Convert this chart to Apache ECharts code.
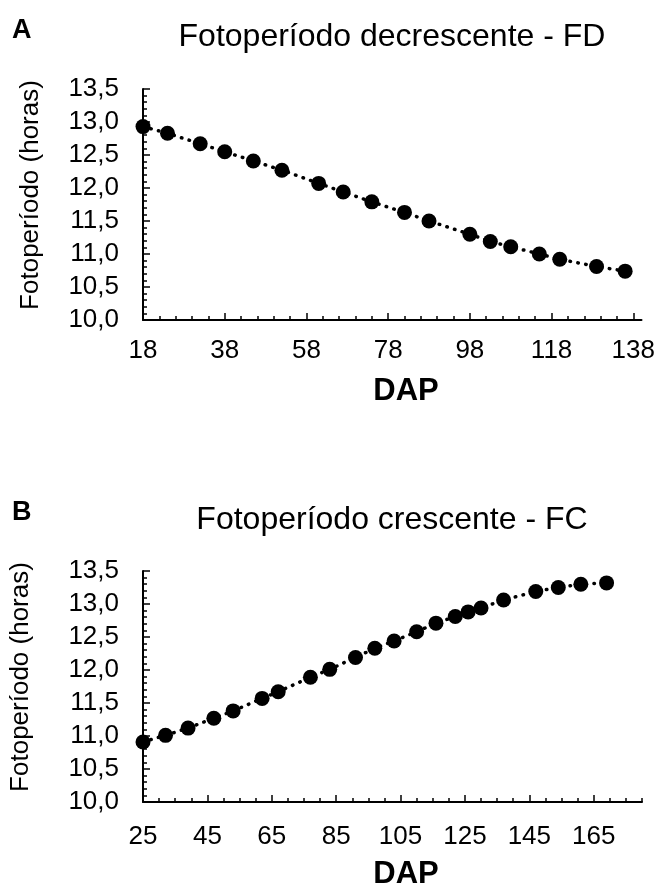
<!DOCTYPE html>
<html>
<head>
<meta charset="utf-8">
<script src="https://cdn.jsdelivr.net/npm/echarts@6/dist/echarts.min.js"></script>
<style>
html,body{margin:0;padding:0;background:#fff;}
#chart{width:658px;height:888px;}
</style>
</head>
<body>
<div id="chart"></div>
<script>
// ---- Data ----
var dapA = [18, 24, 32, 38, 45, 52, 61, 67, 74, 82, 88, 98, 103, 108, 115, 120, 129, 136];
var fotoA = [12.93, 12.83, 12.67, 12.55, 12.41, 12.27, 12.07, 11.94, 11.79, 11.63, 11.50, 11.30, 11.19, 11.11, 11.00, 10.92, 10.81, 10.74];

var dapB = [25, 32, 39, 47, 53, 62, 67, 77, 83, 91, 97, 103, 110, 116, 122, 126, 130, 137, 147, 154, 161, 169];
var fotoB = [10.91, 11.01, 11.12, 11.27, 11.38, 11.57, 11.67, 11.89, 12.01, 12.19, 12.33, 12.44, 12.58, 12.71, 12.81, 12.88, 12.94, 13.06, 13.19, 13.25, 13.30, 13.32];

// tick labels
var xTicksA = [18, 38, 58, 78, 98, 118, 138];
var xMinorA = [22, 26, 30, 34, 42, 46, 50, 54, 62, 66, 70, 74, 82, 86, 90, 94, 102, 106, 110, 114, 122, 126, 130, 134];
var xTicksB = [25, 45, 65, 85, 105, 125, 145, 165];
var xMinorB = [30, 35, 40, 50, 55, 60, 70, 75, 80, 90, 95, 100, 110, 115, 120, 130, 135, 140, 150, 155, 160, 170, 175, 180];
var yTicks = [10.0, 10.5, 11.0, 11.5, 12.0, 12.5, 13.0, 13.5];

var titleA = 'Fotoperíodo decrescente - FD';
var titleB = 'Fotoperíodo crescente - FC';
var yName = 'Fotoperíodo (horas)';
var xName = 'DAP';

// ---- Chart ----
var FONT = '"Liberation Sans", Arial, sans-serif';
var chart = echarts.init(document.getElementById('chart'), null, {renderer: 'canvas'});

function zip(xs, ys) { return xs.map(function (x, i) { return [x, ys[i]]; }); }
function fmt(v) { return Number(v).toFixed(1).replace('.', ','); }

function mainX(grid, min, max, ticks, margin) {
  return {
    type: 'value', gridIndex: grid, position: 'bottom', min: min, max: max,
    axisLine: {show: true, onZero: false, lineStyle: {color: '#000', width: 2}},
    axisTick: {show: true, inside: true, length: 7, lineStyle: {color: '#000', width: 1.5}, customValues: ticks},
    axisLabel: {show: true, customValues: ticks, margin: margin, color: '#000', fontSize: 26, fontFamily: FONT},
    splitLine: {show: false}
  };
}
function minorX(grid, min, max, ticks) {
  return {
    type: 'value', gridIndex: grid, position: 'bottom', min: min, max: max,
    axisLine: {show: false, onZero: false},
    axisTick: {show: true, inside: true, length: 4, lineStyle: {color: '#000', width: 1.5}, customValues: ticks},
    axisLabel: {show: false},
    splitLine: {show: false}
  };
}
function yAx(grid) {
  return {
    type: 'value', gridIndex: grid, min: yTicks[0], max: yTicks[yTicks.length - 1], interval: 0.5,
    axisLine: {show: true, onZero: false, lineStyle: {color: '#000', width: 2}},
    axisTick: {show: true, inside: true, length: 7, lineStyle: {color: '#000', width: 1.5}},
    minorTick: {show: true, splitNumber: 5, length: 4, lineStyle: {color: '#000', width: 1.5}},
    axisLabel: {show: true, margin: 24, formatter: fmt, color: '#000', fontSize: 26, fontFamily: FONT},
    splitLine: {show: false}, minorSplitLine: {show: false}
  };
}
function ser(xi, yi, data) {
  return {
    type: 'line', xAxisIndex: xi, yAxisIndex: yi, data: data, clip: false,
    symbol: 'circle', symbolSize: 15, showSymbol: true,
    itemStyle: {color: '#000'},
    lineStyle: {color: '#000', width: 3.5, type: [0.5, 7.5], cap: 'round'},
    animation: false
  };
}
function txt(x, y, s, font, align, rot) {
  return {
    type: 'text', x: x, y: y, rotation: rot || 0,
    style: {text: s, font: font, fill: '#000', align: align || 'center', verticalAlign: 'middle'}
  };
}

chart.setOption({
  backgroundColor: '#fff',
  animation: false,
  grid: [
    {left: 143, top: 89, width: 499, height: 231},
    {left: 143, top: 571, width: 499, height: 231}
  ],
  xAxis: [
    mainX(0, 18, 140, xTicksA, 18),
    minorX(0, 18, 140, xMinorA),
    mainX(1, 25, 180, xTicksB, 22),
    minorX(1, 25, 180, xMinorB)
  ],
  yAxis: [yAx(0), yAx(1)],
  series: [
    ser(0, 0, zip(dapA, fotoA)),
    ser(2, 1, zip(dapB, fotoB))
  ],
  graphic: [
    txt(12, 31, 'A', 'bold 27px ' + FONT, 'left'),
    txt(392, 37, titleA, '32px ' + FONT),
    txt(31, 195, yName, '26px ' + FONT, 'center', Math.PI / 2),
    txt(406, 391, xName, 'bold 31px ' + FONT),
    txt(12, 513, 'B', 'bold 27px ' + FONT, 'left'),
    txt(392, 520, titleB, '32px ' + FONT),
    txt(21, 677, yName, '26px ' + FONT, 'center', Math.PI / 2),
    txt(406, 874, xName, 'bold 31px ' + FONT)
  ]
});
</script>
</body>
</html>
